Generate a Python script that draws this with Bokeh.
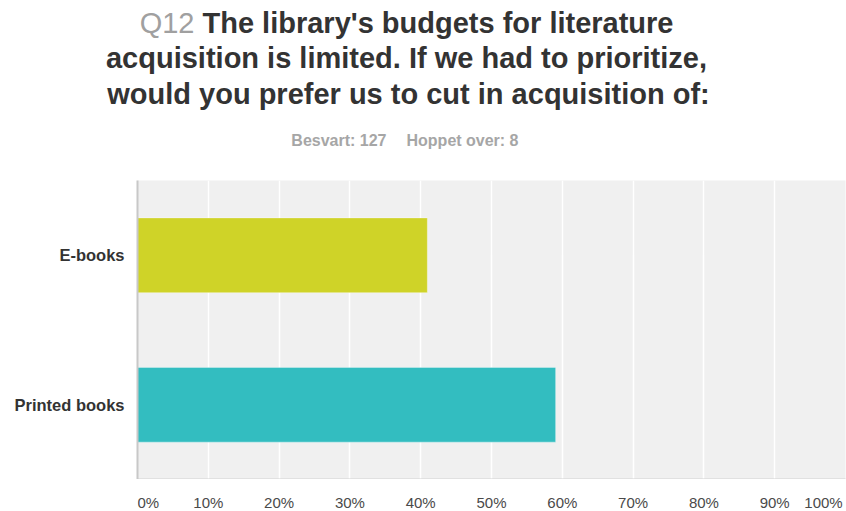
from bokeh.plotting import figure
from bokeh.models import Range1d, FixedTicker, ColumnDataSource
from bokeh.layouts import column
from bokeh.core.properties import value
from bokeh.embed import file_html
from bokeh.resources import INLINE

# ---- data ----
CATEGORIES = ["E-books", "Printed books"]
PERCENTS = [40.94, 59.06]
BAR_COLORS = ["#CFD328", "#33BDC0"]
TICKS = [0, 10, 20, 30, 40, 50, 60, 70, 80, 90, 100]
TICK_LABELS = [f"{t}%" for t in TICKS]
QUESTION_NO = "Q12"
TITLE_LINES = [
    "The library's budgets for literature",
    "acquisition is limited. If we had to prioritize,",
    "would you prefer us to cut in acquisition of:",
]
ANSWERED = 127
SKIPPED = 8

FONT = "Liberation Sans"

# ---- layout geometry (pixels) ----
W, H = 846, 511
F_LEFT, F_RIGHT, F_TOP, F_BOTTOM = 137, 845, 180, 477
AXIS_H = 2
NCAT = len(CATEGORIES)
BASELINE_FIX = 0.34  # em offset of Bokeh's alphabetic baseline


def bare(fig):
    fig.title_location = None
    fig.axis.visible = False
    fig.grid.visible = False
    fig.outline_line_color = None
    fig.background_fill_color = "white"
    fig.border_fill_color = "white"


# ---------- header (title + subtitle) ----------
hdr = figure(width=W, height=F_TOP, x_range=Range1d(0, W), y_range=Range1d(F_TOP, 0),
             output_backend="svg", toolbar_location=None,
             min_border=0, min_border_left=0, min_border_right=0,
             min_border_top=0, min_border_bottom=0)
bare(hdr)
hdr.frame_align = False

TS = 29
ST = 16
tb = lambda y, fs: y - BASELINE_FIX * fs
hdr.text(x=[194], y=[tb(32, TS)], text=[QUESTION_NO], text_align="right",
         text_baseline="alphabetic", text_font=value(FONT), text_font_size=f"{TS}px",
         text_color="#A0A0A0")
hdr.text(x=[202], y=[tb(32, TS)], text=[TITLE_LINES[0]], text_align="left",
         text_baseline="alphabetic", text_font=value(FONT), text_font_size=f"{TS}px",
         text_font_style="bold", text_color="#333333")
hdr.text(x=[406, 408], y=[tb(67.5, TS), tb(103, TS)], text=TITLE_LINES[1:], text_align="center",
         text_baseline="alphabetic", text_font=value(FONT), text_font_size=f"{TS}px",
         text_font_style="bold", text_color="#333333")
hdr.text(x=[386], y=[tb(145, ST)], text=[f"Besvart: {ANSWERED}"], text_align="right",
         text_baseline="alphabetic", text_font=value(FONT), text_font_size=f"{ST}px",
         text_font_style="bold", text_color="#A6A6A6")
hdr.text(x=[406], y=[tb(145, ST)], text=[f"Hoppet over: {SKIPPED}"], text_align="left",
         text_baseline="alphabetic", text_font=value(FONT), text_font_size=f"{ST}px",
         text_font_style="bold", text_color="#A6A6A6")

# ---------- main chart ----------
xr = Range1d(0, 100)
p = figure(width=W, height=F_BOTTOM - F_TOP + AXIS_H, x_range=xr, y_range=Range1d(0, NCAT),
           output_backend="svg", toolbar_location=None,
           min_border_left=F_LEFT, min_border_right=W - F_RIGHT,
           min_border_top=0, min_border_bottom=0)
p.title_location = None
p.outline_line_color = None
p.background_fill_color = "#F0F0F0"
p.border_fill_color = "white"

ypos = [NCAT - i - 0.5 for i in range(NCAT)]
src = ColumnDataSource(dict(y=ypos, right=PERCENTS, color=BAR_COLORS, cat=CATEGORIES))
p.hbar(y="y", left=0, right="right", height=0.5, fill_color="color",
       line_color="white", line_alpha=0.35, line_width=1, source=src)

p.xgrid.ticker = FixedTicker(ticks=TICKS)
p.xgrid.grid_line_color = "white"
p.xgrid.grid_line_width = 1.5
p.ygrid.grid_line_color = None

p.xaxis.ticker = FixedTicker(ticks=TICKS)
p.xaxis.major_label_text_alpha = 0
p.xaxis.major_label_text_font_size = "0px"
p.xaxis.major_label_standoff = 0
p.xaxis.major_tick_out = 0
p.xaxis.major_tick_in = 0
p.xaxis.major_tick_line_color = None
p.xaxis.minor_tick_line_color = None
p.xaxis.axis_line_color = "#D2D2D2"
p.xaxis.axis_line_width = 2

p.yaxis.ticker = FixedTicker(ticks=ypos)
p.yaxis.major_label_overrides = {y: c for y, c in zip(ypos, CATEGORIES)}
p.yaxis.major_label_text_font = FONT
p.yaxis.major_label_text_font_style = "bold"
p.yaxis.major_label_text_font_size = "16.5px"
p.yaxis.major_label_text_color = "#333333"
p.yaxis.major_label_standoff = 13
p.yaxis.major_tick_out = 0
p.yaxis.major_tick_in = 0
p.yaxis.major_tick_line_color = None
p.yaxis.minor_tick_line_color = None
p.yaxis.axis_line_color = "#C8C8C8"
p.yaxis.axis_line_width = 2

# ---------- footer (x tick labels) ----------
FH = H - F_BOTTOM - AXIS_H
ftr = figure(width=W, height=FH, x_range=xr, y_range=Range1d(FH, 0),
             output_backend="svg", toolbar_location=None,
             min_border_left=F_LEFT, min_border_right=W - F_RIGHT,
             min_border_top=0, min_border_bottom=0)
bare(ftr)

FS = 15
BASE = tb(507, FS) - F_BOTTOM - AXIS_H
tick_kw = dict(text_baseline="alphabetic", text_font=value(FONT), text_font_size=f"{FS}px",
               text_color="#4A4A4A")
ftr.text(x=TICKS[:1], y=[BASE], text=TICK_LABELS[:1], text_align="left", **tick_kw)
ftr.text(x=TICKS[1:-1], y=[BASE] * (len(TICKS) - 2), text=TICK_LABELS[1:-1],
         text_align="center", **tick_kw)
ftr.text(x=[TICKS[-1] - 0.4], y=[BASE], text=TICK_LABELS[-1:], text_align="right", **tick_kw)

layout = column(hdr, p, ftr, spacing=0)
open("out.html", "w").write(file_html(layout, INLINE))
